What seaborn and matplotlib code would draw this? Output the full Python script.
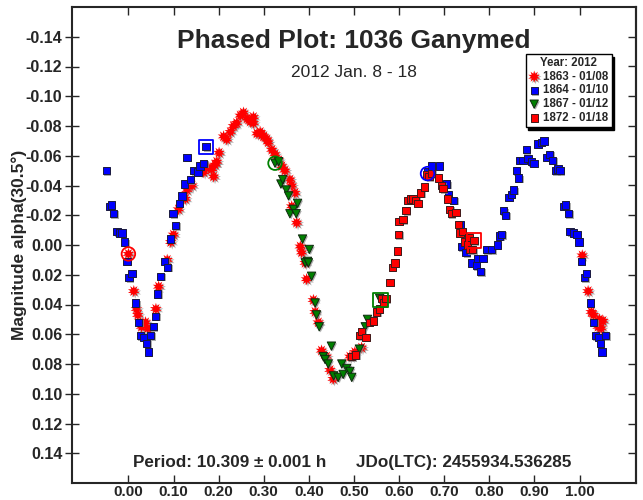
import numpy as np
import pandas as pd
import seaborn as sns
import matplotlib.pyplot as plt
import matplotlib.patheffects as pe

# session labels
sessions = ["1863 - 01/08", "1864 - 01/10", "1867 - 01/12", "1872 - 01/18"]

ph_1863 = [0.000, 0.012, 0.018, 0.021, 0.029, 0.038, 0.043, 0.061, 0.067, 0.086,
           0.094, 0.100, 0.111, 0.126, 0.130, 0.141, 0.167, 0.178, 0.185, 0.189,
           0.192, 0.196, 0.201, 0.211, 0.218, 0.226, 0.233, 0.240, 0.248, 0.255,
           0.263, 0.270, 0.277, 0.277, 0.285, 0.292, 0.296, 0.300, 0.307, 0.310,
           0.318, 0.325, 0.333, 0.340, 0.347, 0.358, 0.362, 0.369, 0.362, 0.373,
           0.381, 0.384, 0.392, 0.395, 0.410, 0.414, 0.421, 0.428, 0.439, 0.447,
           0.454, 0.491, 0.502, 0.517, 1.006, 1.019, 1.026, 1.031, 1.041, 1.044,
           1.048, 1.052]
mag_1863 = [0.006, 0.031, 0.043, 0.047, 0.055, 0.052, 0.056, 0.043, 0.028, 0.010,
            -0.002, -0.007, -0.024, -0.031, -0.037, -0.040, -0.049, -0.052, -0.051, -0.046,
            -0.054, -0.056, -0.062, -0.073, -0.071, -0.076, -0.080, -0.082, -0.087, -0.089,
            -0.085, -0.083, -0.086, -0.082, -0.075, -0.076, -0.074, -0.073, -0.071, -0.069,
            -0.064, -0.061, -0.057, -0.053, -0.050, -0.044, -0.040, -0.035, -0.026, -0.015,
            0.001, 0.005, 0.012, 0.023, 0.037, 0.045, 0.052, 0.071, 0.075, 0.084,
            0.090, 0.075, 0.072, 0.069, 0.007, 0.031, 0.045, 0.047, 0.055, 0.050,
            0.056, 0.051]

ph_1864 = [-0.049, -0.041, -0.038, -0.033, -0.025, -0.019, -0.014, -0.008, -0.003, 0.001,
           0.008, 0.016, 0.023, 0.027, 0.033, 0.040, 0.044, 0.049, 0.055, 0.060,
           0.065, 0.071, 0.080, 0.087, 0.093, 0.099, 0.105, 0.113, 0.119, 0.124,
           0.130, 0.137, 0.145, 0.154, 0.159, 0.167, 0.172,
           0.663, 0.672, 0.689, 0.705, 0.709, 0.721, 0.735, 0.738, 0.748, 0.762,
           0.771, 0.775, 0.781, 0.786, 0.794, 0.805, 0.818, 0.823, 0.827, 0.832,
           0.836, 0.844, 0.849, 0.854, 0.860, 0.865, 0.867, 0.875, 0.882, 0.886,
           0.893, 0.899, 0.908, 0.915, 0.921, 0.928, 0.934, 0.940, 0.947, 0.952,
           0.957, 0.965, 0.969, 0.976, 0.979, 0.987, 0.994, 0.999, 1.004, 1.011,
           1.015, 1.024, 1.031, 1.035, 1.042, 1.046, 1.050, 1.058]
mag_1864 = [-0.050, -0.026, -0.027, -0.021, -0.009, -0.008, -0.008, -0.002, 0.011, 0.022,
            0.019, 0.039, 0.052, 0.061, 0.062, 0.066, 0.072, 0.061, 0.055, 0.048,
            0.033, 0.021, 0.011, 0.015, -0.004, -0.021, -0.013, -0.028, -0.033, -0.041,
            -0.059, -0.044, -0.050, -0.049, -0.053, -0.055, -0.066,
            -0.049, -0.053, -0.053, -0.041, -0.034, -0.030, -0.014, 0.001, 0.005, 0.012,
            0.014, 0.009, 0.018, 0.009, 0.003, 0.003, 0.000, -0.006, -0.007, -0.023,
            -0.020, -0.032, -0.034, -0.037, -0.050, -0.045, -0.057, -0.057, -0.064, -0.058,
            -0.056, -0.055, -0.068, -0.069, -0.070, -0.059, -0.061, -0.057, -0.050, -0.051,
            -0.050, -0.026, -0.027, -0.021, -0.009, -0.008, -0.007, -0.002, 0.011, 0.022,
            0.019, 0.039, 0.052, 0.061, 0.062, 0.066, 0.072, 0.061]

ph_1867 = [0.325, 0.333, 0.338, 0.342, 0.350, 0.355, 0.358, 0.366, 0.372, 0.375,
           0.386, 0.392, 0.397, 0.399, 0.401, 0.406, 0.414, 0.417, 0.423, 0.432,
           0.436, 0.443, 0.450, 0.455, 0.465, 0.473, 0.476, 0.484, 0.491, 0.495,
           0.512, 0.525, 0.530, 0.557]
mag_1867 = [-0.055, -0.056, -0.041, -0.044, -0.037, -0.033, -0.021, -0.024, -0.021, -0.028,
            -0.004, 0.012, 0.011, 0.012, 0.003, 0.021, 0.039, 0.047, 0.055, 0.075,
            0.077, 0.080, 0.068, 0.088, 0.089, 0.080, 0.087, 0.083, 0.085, 0.089,
            0.070, 0.055, 0.050, 0.036]

ph_1872 = [0.495, 0.504, 0.513, 0.517, 0.527, 0.534, 0.543, 0.550, 0.556, 0.561,
           0.566, 0.571, 0.580, 0.585, 0.591, 0.596, 0.599, 0.600, 0.609, 0.615,
           0.620, 0.626, 0.631, 0.637, 0.642, 0.648, 0.656, 0.661, 0.666, 0.672,
           0.687, 0.694, 0.697, 0.707, 0.712, 0.716, 0.726, 0.731, 0.735, 0.740,
           0.746, 0.751, 0.755, 0.757, 0.763, 0.766]
mag_1872 = [0.075, 0.074, 0.061, 0.058, 0.062, 0.052, 0.051, 0.045, 0.043, 0.036,
            0.039, 0.036, 0.025, 0.015, 0.012, 0.004, -0.007, -0.016, -0.017, -0.023,
            -0.030, -0.031, -0.031, -0.030, -0.028, -0.035, -0.039, -0.047, -0.046, -0.048,
            -0.045, -0.040, -0.038, -0.031, -0.024, -0.021, -0.022, -0.014, -0.008, -0.009,
            -0.002, 0.000, -0.005, 0.003, 0.003, -0.003]

# open start/end marks of each session
mark_ph = [0.000, 0.172, 0.325, 0.559, 0.663, 0.766]
mark_mag = [0.006, -0.066, -0.055, 0.037, -0.048, -0.003]
mark_col = ["#ff0000", "#0000ff", "#008000", "#008000", "#0000ff", "#ff0000"]
mark_sym = ["o", "s", "o", "s", "o", "s"]

ytick_vals = np.round(np.arange(-0.14, 0.141, 0.02), 2)
xtick_vals = np.round(np.arange(0.0, 1.01, 0.1), 2)

sns.set_style("ticks")
plt.rcParams["font.family"] = ["Liberation Sans", "DejaVu Sans"]
plt.rcParams["axes.unicode_minus"] = False

fig = plt.figure(figsize=(6.43, 5.0), dpi=100)
ax = fig.add_axes([0.112, 0.034, 0.877, 0.952])

shadow = [pe.SimplePatchShadow(offset=(1.0, -1.0), shadow_rgbFace="0.55", alpha=0.7), pe.Normal()]

series = [
    (ph_1863, mag_1863, "#ff0000", (10, 1, 0), 80, "none"),
    (ph_1864, mag_1864, "#0000ff", "s", 28, "#1a1a40"),
    (ph_1867, mag_1867, "#008000", "v", 36, "#0f2a0f"),
    (ph_1872, mag_1872, "#ff0000", "s", 28, "#401a1a"),
]
for name, (ph, mag, col, mk, sz, ec) in zip(sessions, series):
    df = pd.DataFrame({"phase": ph, "mag": mag})
    sns.scatterplot(data=df, x="phase", y="mag", ax=ax, color=col, marker=mk, s=sz,
                    edgecolor=ec, linewidth=0.7, label=name, zorder=3)
    ax.collections[-1].set_path_effects(shadow)

for p, m, c, sym in zip(mark_ph, mark_mag, mark_col, mark_sym):
    ax.scatter([p], [m], s=95 if sym == "o" else 110, marker=sym, facecolor="none",
               edgecolor=c, linewidth=1.3, zorder=4)

ax.set_xlim(-0.125, 1.125)
ax.set_ylim(0.16, -0.16)
ax.set_xticks(xtick_vals)
ax.set_xticklabels([f"{v:.2f}" for v in xtick_vals], fontweight="bold", fontsize=11)
ax.set_yticks(ytick_vals)
ax.set_yticklabels([f"{v:.2f}" for v in ytick_vals], fontweight="bold", fontsize=11.5)
ax.tick_params(axis="x", direction="in", length=6, width=1, top=True, pad=1.5)
ax.tick_params(axis="y", direction="inout", length=10, width=1, right=False, pad=2)
right = ax.secondary_yaxis("right")
right.set_yticks(ytick_vals, labels=[])
right.tick_params(direction="in", length=6, width=1)
right.spines["right"].set_linewidth(1.5)
for sp in ax.spines.values():
    sp.set_linewidth(1.5)
ax.set_xlabel("")
ax.set_ylabel("Magnitude alpha(30.5°)", fontweight="bold", fontsize=12.5, va="center")
ax.yaxis.set_label_coords(-0.094, 0.5)

ax.text(0.5, 0.928, "Phased Plot: 1036 Ganymed", transform=ax.transAxes, ha="center",
        va="center", fontsize=19, fontweight="bold")
ax.text(0.5, 0.863, "2012 Jan. 8 - 18", transform=ax.transAxes, ha="center",
        va="center", fontsize=12.5)
ax.text(0.108, 0.044, "Period: 10.309 ± 0.001 h", transform=ax.transAxes, ha="left",
        va="center", fontsize=12.3, fontweight="bold")
ax.text(0.504, 0.044, "JDo(LTC): 2455934.536285", transform=ax.transAxes, ha="left",
        va="center", fontsize=12.3, fontweight="bold")

leg = ax.legend(loc="upper right", bbox_to_anchor=(0.957, 0.901), title="Year: 2012",
                fancybox=False, edgecolor="black", framealpha=1,
                shadow={"color": "black", "alpha": 1},
                prop={"weight": "bold", "size": 8.3}, title_fontproperties={"weight": "bold", "size": 8.3},
                borderpad=0.25, labelspacing=0.15, handletextpad=0.3, handlelength=1.0,
                borderaxespad=0)
leg.get_frame().set_linewidth(1.0)

fig.savefig("out.png", dpi=100)
